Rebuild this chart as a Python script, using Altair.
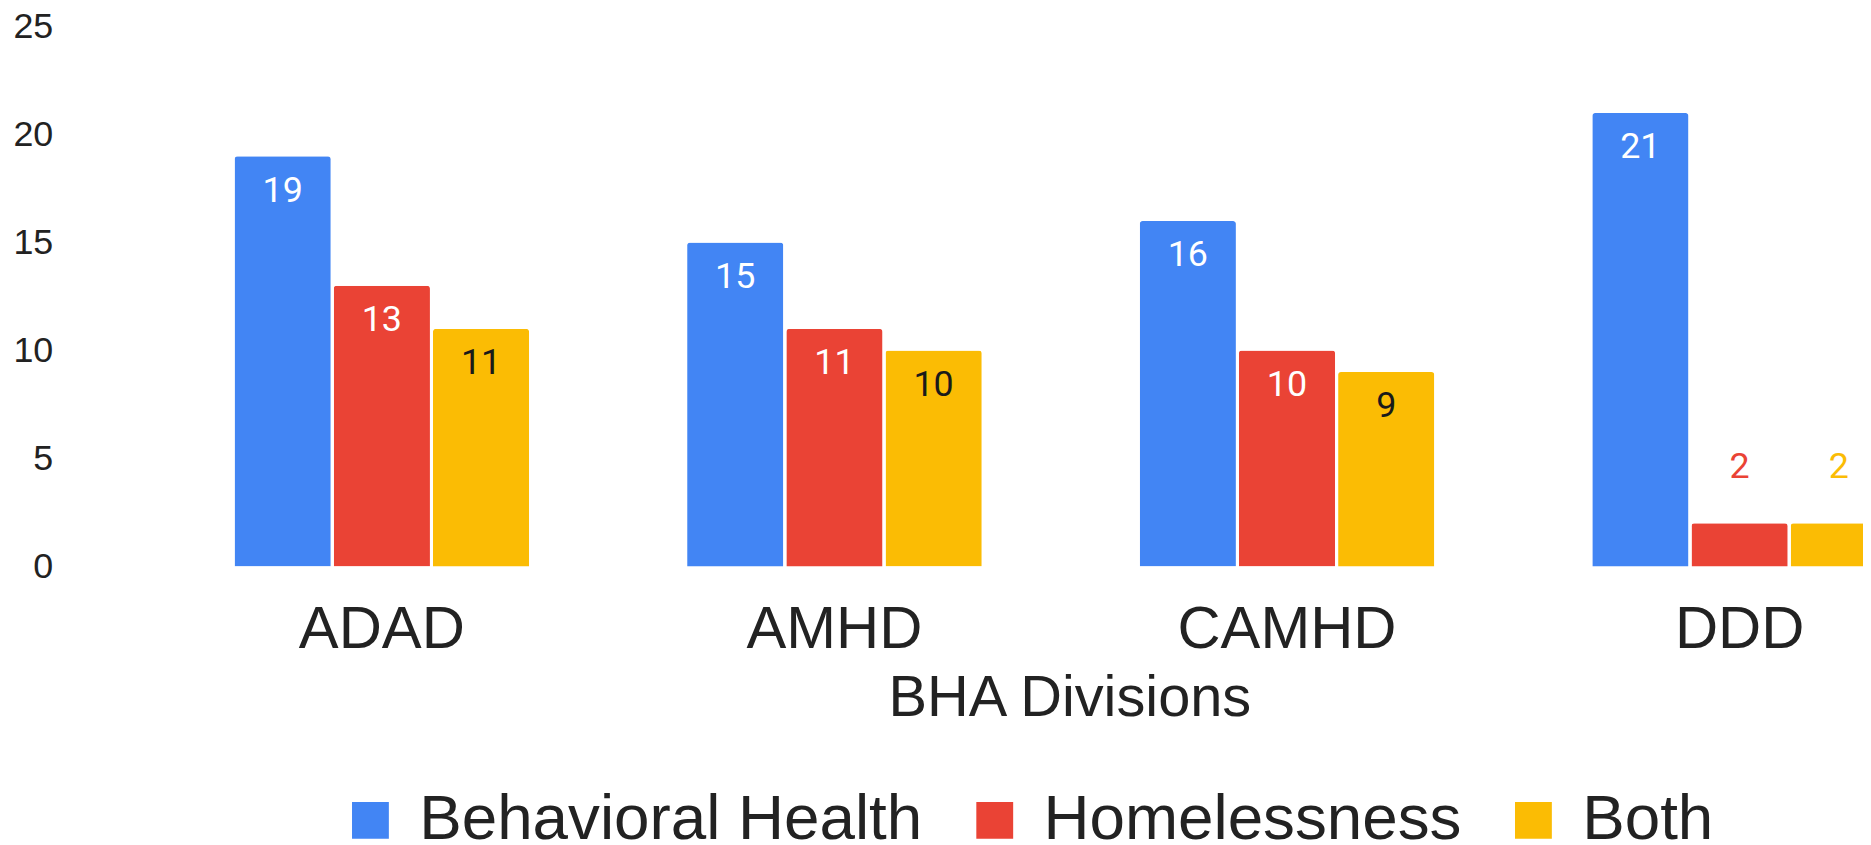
import altair as alt
import pandas as pd

divisions = ["ADAD", "AMHD", "CAMHD", "DDD"]
series_names = ["Behavioral Health", "Homelessness", "Both"]
behavioral_health = [19, 15, 16, 21]
homelessness = [13, 11, 10, 2]
both = [11, 10, 9, 2]
colors = ["#4285F4", "#EA4335", "#FBBC04"]
inside_text_colors = ["#ffffff", "#ffffff", "#1a1a1a"]
y_ticks = [0, 5, 10, 15, 20, 25]

rows = []
for si, (name, vals) in enumerate(zip(series_names, [behavioral_health, homelessness, both])):
    for d, v in zip(divisions, vals):
        rows.append({"division": d, "series": name, "value": v,
                     "inside_color": inside_text_colors[si], "outside_color": colors[si]})
df = pd.DataFrame(rows)

x_enc = alt.X("division:N", sort=divisions,
              scale=alt.Scale(range=[155.5, 1815], paddingInner=0.349, paddingOuter=0),
              axis=alt.Axis(title="BHA Divisions", labelAngle=0, labelFont="Liberation Sans",
                            labelFontSize=60, labelColor="#222222", labelBaseline="alphabetic",
                            labelPadding=81, labelLimit=1000, ticks=False, tickSize=0,
                            domain=False, grid=False,
                            titleFont="Liberation Sans", titleFontSize=58,
                            titleFontWeight="normal", titleColor="#222222",
                            titleX=994, titleY=150, titleBaseline="alphabetic",
                            titleAlign="center"))
xoff_enc = alt.XOffset("series:N", sort=series_names,
                       scale=alt.Scale(domain=series_names, paddingInner=0.03, paddingOuter=0))
y_enc = alt.Y("value:Q", scale=alt.Scale(domain=[0, 25], nice=False),
              axis=alt.Axis(title=None, values=y_ticks, grid=False, domain=False,
                            ticks=False, tickSize=0, labelFont="Liberation Sans",
                            labelFontSize=36, labelColor="#222222", labelPadding=27))

bars = alt.Chart(df).mark_bar(cornerRadiusTopLeft=3, cornerRadiusTopRight=3).encode(
    x=x_enc, xOffset=xoff_enc, y=y_enc,
    color=alt.Color("series:N", sort=series_names,
                    scale=alt.Scale(domain=series_names, range=colors),
                    legend=alt.Legend(title=None, orient="none", legendX=260, legendY=765,
                                      direction="horizontal", symbolType="square",
                                      symbolSize=1369, symbolStrokeWidth=0,
                                      labelFont="Liberation Sans", labelFontSize=64,
                                      labelColor="#222222", labelOffset=17,
                                      columnPadding=40, padding=0, labelLimit=1000))
)

inside = alt.Chart(df).transform_filter("datum.value >= 5").mark_text(
    font="Roboto", fontSize=36, baseline="middle", align="center", dy=34.5
).encode(x=x_enc, xOffset=xoff_enc, y=y_enc, text="value:Q",
         fill=alt.Fill("inside_color:N", scale=None))

outside = alt.Chart(df).transform_filter("datum.value < 5").mark_text(
    font="Roboto", fontSize=36, baseline="middle", align="center", dy=-56
).encode(x=x_enc, xOffset=xoff_enc, y=y_enc, text="value:Q",
         fill=alt.Fill("outside_color:N", scale=None))

chart = alt.layer(bars, inside, outside).resolve_scale(fill="independent").properties(
    width=1791, height=542,
    autosize=alt.AutoSizeParams(type="none"),
    padding={"left": 72, "top": 17, "right": 0, "bottom": 278},
).configure_view(stroke=None)

chart.save("out.html", embed_options={"renderer": "svg", "actions": False})
